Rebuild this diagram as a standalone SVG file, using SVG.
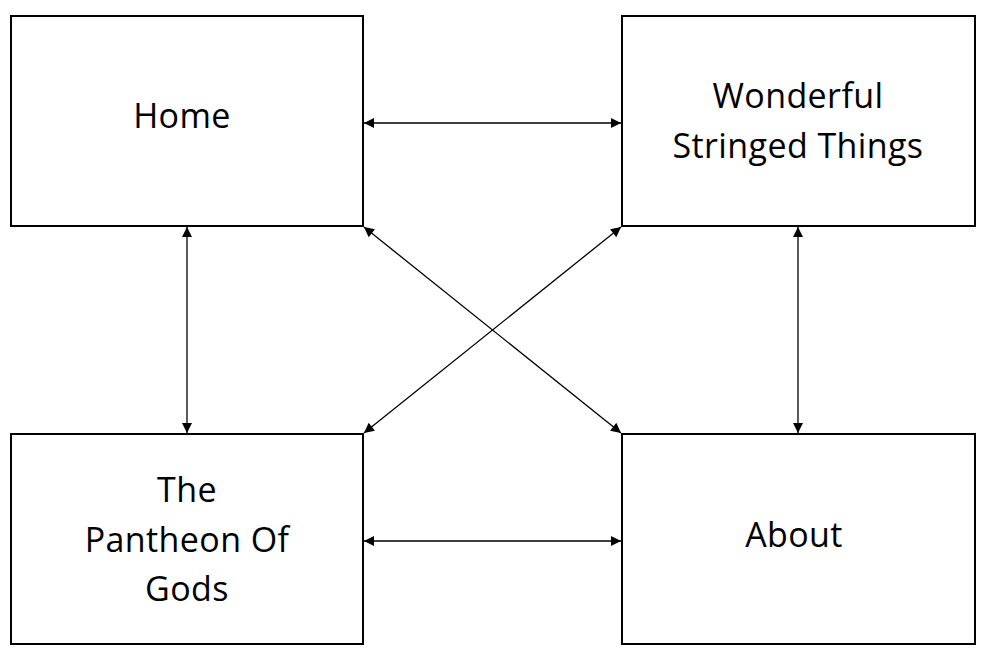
<svg xmlns="http://www.w3.org/2000/svg" width="989" height="662" viewBox="0 0 989 662">
<style>
.box{fill:#fff;stroke:#000;stroke-width:2}
.lbl{font-family:"Open Sans","Liberation Sans",sans-serif;font-size:34px;letter-spacing:0.4px;fill:#000;text-anchor:middle}
.con{stroke:#000;stroke-width:1.3;fill:none;marker-start:url(#ah);marker-end:url(#ah)}
</style>
<defs>
<marker id="ah" viewBox="0 0 10 10" refX="10" refY="5" markerWidth="12" markerHeight="10" markerUnits="userSpaceOnUse" orient="auto-start-reverse">
<path d="M0,0 L10,5 L0,10 z" fill="#000"/>
</marker>
</defs>
<rect width="989" height="662" fill="#fff"/>
<g id="home"><rect class="box" x="11" y="16" width="352" height="210"/><text class="lbl" x="182" y="128">Home</text></g>
<g id="wonderful"><rect class="box" x="622" y="16" width="353" height="210"/><text class="lbl" x="798" y="108">Wonderful</text><text class="lbl" x="798" y="158">Stringed Things</text></g>
<g id="pantheon"><rect class="box" x="11" y="434" width="352" height="210"/><text class="lbl" x="187" y="502">The</text><text class="lbl" x="187" y="552">Pantheon Of</text><text class="lbl" x="187" y="601">Gods</text></g>
<g id="about"><rect class="box" x="622" y="434" width="353" height="210"/><text class="lbl" x="794" y="547">About</text></g>
<g id="connectors">
<line class="con" x1="364" y1="123" x2="621" y2="123"/>
<line class="con" x1="364" y1="541" x2="621" y2="541"/>
<line class="con" x1="187" y1="227" x2="187" y2="433"/>
<line class="con" x1="798" y1="227" x2="798" y2="433"/>
<line class="con" x1="364" y1="227" x2="621" y2="433"/>
<line class="con" x1="621" y1="227" x2="364" y2="433"/>
</g>
</svg>
